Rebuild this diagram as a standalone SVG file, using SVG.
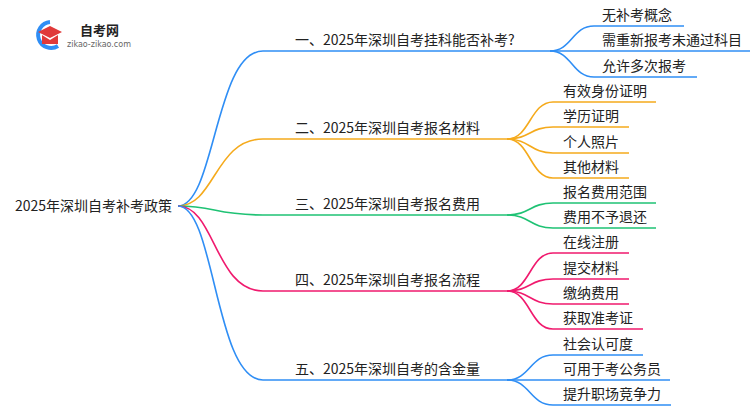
<svg xmlns="http://www.w3.org/2000/svg" width="750" height="410" viewBox="0 0 750 410">
<style>
text{font-family:"Noto Sans CJK SC","Liberation Sans",sans-serif;font-size:14px;fill:#222}
.c{fill:none;stroke-width:1.6}
.b{stroke:#2f8ef5}.o{stroke:#f5aa1c}.g{stroke:#1fc274}.p{stroke:#f01a6e}
</style>
<rect width="750" height="410" fill="#fff"/>
<g id="logo">
<path d="M50 22 A13 13 0 1 0 58 46" fill="none" stroke="#2f8ef5" stroke-width="4"/>
<path d="M38 32 L50 26 L62 32 L50 38 Z" fill="#e03a3a"/>
<path d="M42 35 L42 44 L58 44 L58 35 L50 40 Z" fill="#e03a3a"/>
<text x="80" y="35" style="font-size:13px;font-weight:bold">自考网</text>
<text x="67" y="47" style="font-size:8px;fill:#666;font-family:'DejaVu Sans',sans-serif">zikao-zikao.com</text>
</g>
<g id="connectors">
<path class="c b" d="M178 206 C215 206 215 51 263 51 H550"/>
<path class="c o" d="M178 206 C215 206 215 139 263 139 H507"/>
<path class="c g" d="M178 206 C215 206 215 215 263 215 H507"/>
<path class="c p" d="M178 206 C215 206 215 291 263 291 H507"/>
<path class="c b" d="M178 206 C215 206 215 380 263 380 H507"/>
<path class="c b" d="M550 51 C572 51 572 26 594 26 H684"/>
<path class="c b" d="M550 51 H750"/>
<path class="c b" d="M550 51 C572 51 572 77 594 77 H697"/>
<path class="c o" d="M507 139 C530 139 530 102 553 102 H656"/>
<path class="c o" d="M507 139 C530 139 530 127 553 127 H629"/>
<path class="c o" d="M507 139 C530 139 530 153 553 153 H629"/>
<path class="c o" d="M507 139 C530 139 530 178 553 178 H629"/>
<path class="c g" d="M507 215 C530 215 530 203 553 203 H656"/>
<path class="c g" d="M507 215 C530 215 530 228 553 228 H656"/>
<path class="c p" d="M507 291 C530 291 530 253 553 253 H629"/>
<path class="c p" d="M507 291 C530 291 530 279 553 279 H629"/>
<path class="c p" d="M507 291 C530 291 530 304 553 304 H629"/>
<path class="c p" d="M507 291 C530 291 530 329 553 329 H643"/>
<path class="c b" d="M507 380 C530 380 530 355 553 355 H643"/>
<path class="c b" d="M507 380 H670"/>
<path class="c b" d="M507 380 C530 380 530 405 553 405 H671"/>
</g>
<g id="root"><text x="15" y="211">2025年深圳自考补考政策</text></g>
<g id="n1"><text x="295" y="45">一、2025年深圳自考挂科能否补考?</text></g>
<g id="n2"><text x="295" y="133">二、2025年深圳自考报名材料</text></g>
<g id="n3"><text x="295" y="209">三、2025年深圳自考报名费用</text></g>
<g id="n4"><text x="295" y="285">四、2025年深圳自考报名流程</text></g>
<g id="n5"><text x="295" y="374">五、2025年深圳自考的含金量</text></g>
<g id="leaves">
<text x="602" y="20">无补考概念</text>
<text x="602" y="45">需重新报考未通过科目</text>
<text x="602" y="71">允许多次报考</text>
<text x="563" y="96">有效身份证明</text>
<text x="563" y="121">学历证明</text>
<text x="563" y="147">个人照片</text>
<text x="563" y="172">其他材料</text>
<text x="563" y="197">报名费用范围</text>
<text x="563" y="222">费用不予退还</text>
<text x="563" y="247">在线注册</text>
<text x="563" y="273">提交材料</text>
<text x="563" y="298">缴纳费用</text>
<text x="563" y="323">获取准考证</text>
<text x="563" y="349">社会认可度</text>
<text x="563" y="374">可用于考公务员</text>
<text x="563" y="399">提升职场竞争力</text>
</g>
</svg>
